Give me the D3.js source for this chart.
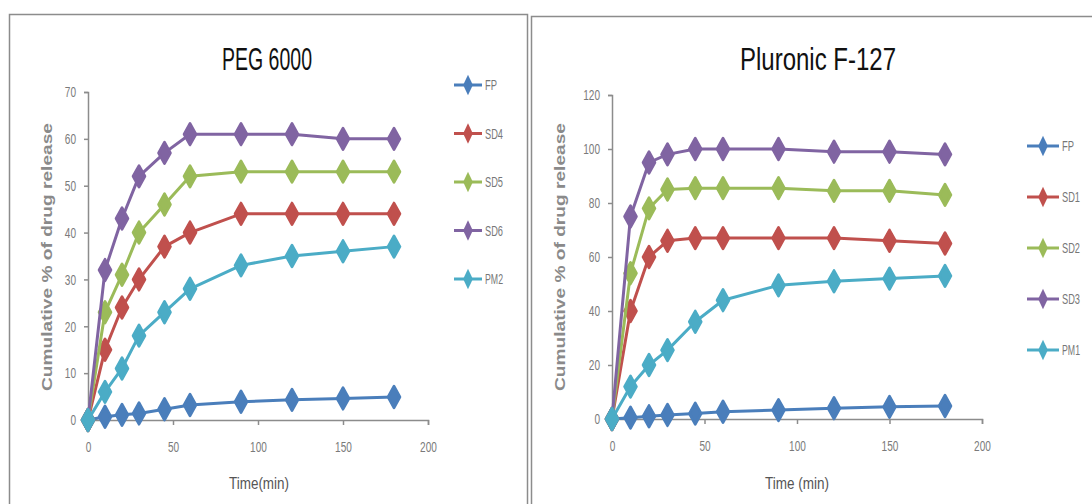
<!DOCTYPE html>
<html>
<head>
<meta charset="utf-8">
<script src="https://cdn.jsdelivr.net/npm/d3@7/dist/d3.min.js"></script>
<style>
  body { margin: 0; background: #fff; }
  svg { display: block; }
  text { font-family: "Liberation Sans", Arial, sans-serif; }
</style>
</head>
<body>
<div id="chart"></div>
<script>
// sampling times (min)
var times = [0, 10, 20, 30, 45, 60, 90, 120, 150, 180];
var xTicks = [0, 50, 100, 150, 200];

// PEG 6000
var pegNames = ["FP", "SD4", "SD5", "SD6", "PM2"];
var pegFP  = [0, 0.7, 1.1, 1.4, 2.3, 3.2, 3.9, 4.3, 4.6, 4.9];
var pegSD4 = [0, 15, 24, 30, 37, 40, 44, 44, 44, 44];
var pegSD5 = [0, 23, 31, 40, 46, 52, 53, 53, 53, 53];
var pegSD6 = [0, 32, 43, 52, 57, 61, 61, 61, 60, 60];
var pegPM2 = [0, 6, 11, 18, 23, 28, 33, 35, 36, 37];
var pegYTicks = [0, 10, 20, 30, 40, 50, 60, 70];

// Pluronic F-127
var pluNames = ["FP", "SD1", "SD2", "SD3", "PM1"];
var pluFP  = [0, 0.5, 1, 1.5, 2, 2.7, 3.3, 4, 4.5, 4.8];
var pluSD1 = [0, 40, 60, 66, 67, 67, 67, 67, 66, 65];
var pluSD2 = [0, 54, 78, 85, 85.5, 85.5, 85.5, 84.5, 84.5, 83];
var pluSD3 = [0, 75, 95, 98, 100, 100, 100, 99, 99, 98];
var pluPM1 = [0, 12, 20, 25.5, 36, 44, 49.5, 51, 52, 53];
var pluYTicks = [0, 20, 40, 60, 80, 100, 120];

var colors = ["#4a7ebb", "#c0504d", "#9bbb59", "#8064a2", "#4bacc6"];

var W = 1092, H = 504;
var svg = d3.select("#chart").append("svg").attr("width", W).attr("height", H);

// panel frames
svg.append("rect").attr("x", 9.5).attr("y", 14.5).attr("width", 518).attr("height", 500)
  .attr("fill", "none").attr("stroke", "#8c8c8c").attr("stroke-width", 1.5);
svg.append("rect").attr("x", 531.5).attr("y", 16.5).attr("width", 570).attr("height", 500)
  .attr("fill", "none").attr("stroke", "#8c8c8c").attr("stroke-width", 1.5);

function drawPanel(p) {
  var x = d3.scaleLinear().domain([0, 200]).range([p.x0, p.x1]);
  var y = d3.scaleLinear().domain([0, p.yMax]).range([p.y0, p.y1]);
  var g = svg.append("g");

  // title
  g.append("text").attr("x", p.titleX).attr("y", 70).attr("text-anchor", "middle")
    .attr("font-size", 32).attr("fill", "#111")
    .attr("textLength", p.titleW).attr("lengthAdjust", "spacingAndGlyphs")
    .text(p.title);

  // axes
  var yAxis = d3.axisLeft(y).tickValues(p.yTicks).tickSize(4).tickPadding(8);
  var xAxis = d3.axisBottom(x).tickValues(xTicks).tickSize(5).tickPadding(16);
  var ya = g.append("g").attr("transform", "translate(" + p.x0 + ",0)").call(yAxis);
  var xa = g.append("g").attr("transform", "translate(0," + p.y0 + ")").call(xAxis);
  [ya, xa].forEach(function(a) {
    a.select(".domain").attr("stroke", "#8c8c8c").attr("stroke-width", 1.5);
    a.selectAll(".tick line").attr("stroke", "#8c8c8c").attr("stroke-width", 1.5);
    a.selectAll(".tick text").attr("fill", "#7a7a7a").attr("font-size", 15)
      .attr("font-family", "Liberation Sans, sans-serif")
      .attr("textLength", function() { return this.textContent.length * 5.6; })
      .attr("lengthAdjust", "spacingAndGlyphs");
  });

  // axis titles
  g.append("text")
    .attr("transform", "translate(" + p.yLabelX + "," + 257 + ") rotate(-90)")
    .attr("text-anchor", "middle").attr("font-size", 14).attr("font-weight", "bold")
    .attr("fill", "#8a8a8a")
    .attr("textLength", 268).attr("lengthAdjust", "spacingAndGlyphs")
    .text("Cumulative % of drug release");
  g.append("text").attr("x", p.xLabelX).attr("y", 489).attr("text-anchor", "middle")
    .attr("font-size", 16).attr("fill", "#555")
    .attr("textLength", p.xLabelW).attr("lengthAdjust", "spacingAndGlyphs")
    .text(p.xLabel);

  var line = d3.line().x(function(d, i) { return x(times[i]); }).y(function(d) { return y(d); });
  var diamond = d3.symbol().type(d3.symbolDiamond).size(100);

  p.series.forEach(function(vals, si) {
    var c = colors[si];
    var s = g.append("g");
    s.append("path").datum(vals).attr("d", line)
      .attr("fill", "none").attr("stroke", c).attr("stroke-width", 3).attr("stroke-linejoin", "round");
    var e = p.err[si];
    s.selectAll(".eb").data(vals).enter().append("path")
      .attr("d", function(d, i) {
        var cx = x(times[i]), t = y(d + e), b = y(Math.max(0, d - e));
        return "M" + cx + "," + t + "V" + b + "M" + (cx - 3) + "," + t + "H" + (cx + 3) +
          "M" + (cx - 3) + "," + b + "H" + (cx + 3);
      })
      .attr("stroke", c).attr("stroke-width", 1.5).attr("fill", "none");
    s.selectAll(".pt").data(vals).enter().append("path")
      .attr("d", diamond)
      .attr("transform", function(d, i) { return "translate(" + x(times[i]) + "," + y(d) + ") scale(1.1,1.15)"; })
      .attr("fill", c).attr("stroke", c).attr("stroke-width", 2.5).attr("stroke-linejoin", "round");

    // legend
    var ly = p.legY + si * p.legStep;
    var lg = g.append("g");
    lg.append("line").attr("x1", p.legX).attr("x2", p.legX + p.legLen).attr("y1", ly).attr("y2", ly)
      .attr("stroke", c).attr("stroke-width", 3);
    lg.append("path").attr("d", diamond)
      .attr("transform", "translate(" + (p.legX + p.legLen / 2) + "," + ly + ") scale(0.9,1.1)")
      .attr("fill", c);
    lg.append("line").attr("x1", p.legX + p.legLen / 2).attr("x2", p.legX + p.legLen / 2)
      .attr("y1", ly - 8).attr("y2", ly + 8).attr("stroke", c).attr("stroke-width", 1.5);
    lg.append("text").attr("x", p.legX + p.legLen + 3).attr("y", ly + 5)
      .attr("font-size", 15).attr("fill", "#777")
      .attr("textLength", p.names[si].length * 6).attr("lengthAdjust", "spacingAndGlyphs")
      .text(p.names[si]);
  });
}

drawPanel({
  title: "PEG 6000", titleX: 267, titleW: 90,
  x0: 88, x1: 428, y0: 420, y1: 92, yMax: 70, yTicks: pegYTicks,
  yLabelX: 52, xLabelX: 259, xLabelW: 60, xLabel: "Time(min)",
  series: [pegFP, pegSD4, pegSD5, pegSD6, pegPM2], names: pegNames,
  err: [0.8, 1.5, 1.2, 1.2, 1.2],
  legX: 454, legLen: 28, legY: 85, legStep: 48.5
});

drawPanel({
  title: "Pluronic F-127", titleX: 818, titleW: 156,
  x0: 612, x1: 982, y0: 419, y1: 95, yMax: 120, yTicks: pluYTicks,
  yLabelX: 565, xLabelX: 797, xLabelW: 64, xLabel: "Time (min)",
  series: [pluFP, pluSD1, pluSD2, pluSD3, pluPM1], names: pluNames,
  err: [1.2, 2.5, 2.5, 2, 2],
  legX: 1027, legLen: 32, legY: 146, legStep: 51
});
</script>
</body>
</html>
